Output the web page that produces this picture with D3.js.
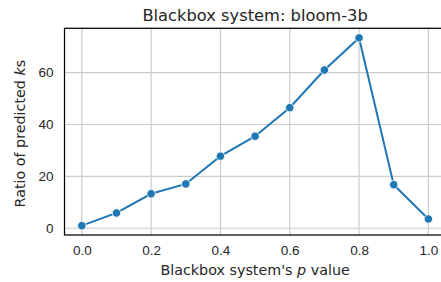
<!DOCTYPE html>
<html lang="en">
<head>
    <meta charset="UTF-8">
    <title>Blackbox system: bloom-3b</title>
    <script src="https://cdn.jsdelivr.net/npm/d3@7"></script>
    <style>
        body { margin: 0; padding: 0; background: white; }
        svg { display: block; font-family: "DejaVu Sans", sans-serif; }
        .tick text { fill: #262626; font-size: 13.5px; }
    </style>
</head>
<body>
    <div id="chart"></div>
    <script>
        // data
        const pValues = [0.0, 0.1, 0.2, 0.3, 0.4, 0.5, 0.6, 0.7, 0.8, 0.9, 1.0];
        const ratios = [1.0, 5.9, 13.3, 17.1, 27.8, 35.5, 46.5, 61.0, 73.4, 16.8, 3.6];
        const xTicks = [0.0, 0.2, 0.4, 0.6, 0.8, 1.0];
        const yTicks = [0, 20, 40, 60];

        const w = 441;
        const h = 282;
        const plotLeft = 64.5, plotRight = 445.7, plotTop = 28.3, plotBottom = 235;

        const svg = d3.select("#chart")
            .append("svg")
            .attr("width", w)
            .attr("height", h);

        const x = d3.scaleLinear().domain([-0.05, 1.05]).range([plotLeft, plotRight]);
        const y = d3.scaleLinear().domain([-2.6, 77.1]).range([plotBottom, plotTop]);

        // grid
        svg.append("g")
            .selectAll("line")
            .data(xTicks)
            .enter()
            .append("line")
            .attr("x1", d => x(d)).attr("x2", d => x(d))
            .attr("y1", plotTop).attr("y2", plotBottom)
            .attr("stroke", "#cccccc").attr("stroke-width", 1.2);

        svg.append("g")
            .selectAll("line")
            .data(yTicks)
            .enter()
            .append("line")
            .attr("x1", plotLeft).attr("x2", plotRight)
            .attr("y1", d => y(d)).attr("y2", d => y(d))
            .attr("stroke", "#cccccc").attr("stroke-width", 1.2);

        // axes
        const xAxis = svg.append("g")
            .attr("transform", `translate(0, ${plotBottom})`)
            .call(d3.axisBottom(x).tickValues(xTicks).tickFormat(d3.format(".1f")).tickSize(0).tickPadding(10));
        xAxis.select(".domain").remove();

        const yAxis = svg.append("g")
            .attr("transform", `translate(${plotLeft}, 0)`)
            .call(d3.axisLeft(y).tickValues(yTicks).tickSize(0).tickPadding(11));
        yAxis.select(".domain").remove();

        // frame
        svg.append("rect")
            .attr("x", plotLeft).attr("y", plotTop)
            .attr("width", plotRight - plotLeft).attr("height", plotBottom - plotTop)
            .attr("fill", "none")
            .attr("stroke", "#000").attr("stroke-width", 1.25);

        // line
        const line = d3.line()
            .x((d, i) => x(pValues[i]))
            .y(d => y(d));

        svg.append("path")
            .datum(ratios)
            .attr("d", line)
            .attr("fill", "none")
            .attr("stroke", "#1f77b4")
            .attr("stroke-width", 2);

        svg.append("g")
            .selectAll("circle")
            .data(ratios)
            .enter()
            .append("circle")
            .attr("cx", (d, i) => x(pValues[i]))
            .attr("cy", d => y(d))
            .attr("r", 4.2)
            .attr("fill", "#1f77b4")
            .attr("stroke", "white")
            .attr("stroke-width", 0.8);

        // labels
        svg.append("text")
            .attr("x", (plotLeft + plotRight) / 2)
            .attr("y", 21)
            .attr("text-anchor", "middle")
            .attr("fill", "#262626")
            .style("font-size", "16.3px")
            .text("Blackbox system: bloom-3b");

        const xl = svg.append("text")
            .attr("x", (plotLeft + plotRight) / 2)
            .attr("y", 275)
            .attr("text-anchor", "middle")
            .attr("fill", "#262626")
            .style("font-size", "14.3px");
        xl.append("tspan").text("Blackbox system's ");
        xl.append("tspan").style("font-style", "italic").text("p");
        xl.append("tspan").text(" value");

        const yl = svg.append("text")
            .attr("transform", `translate(25, ${(plotTop + plotBottom) / 2 + 2}) rotate(-90)`)
            .attr("text-anchor", "middle")
            .attr("fill", "#262626")
            .style("font-size", "14.3px");
        yl.append("tspan").text("Ratio of predicted ");
        yl.append("tspan").style("font-style", "italic").text("k");
        yl.append("tspan").text("s");
    </script>
</body>
</html>
